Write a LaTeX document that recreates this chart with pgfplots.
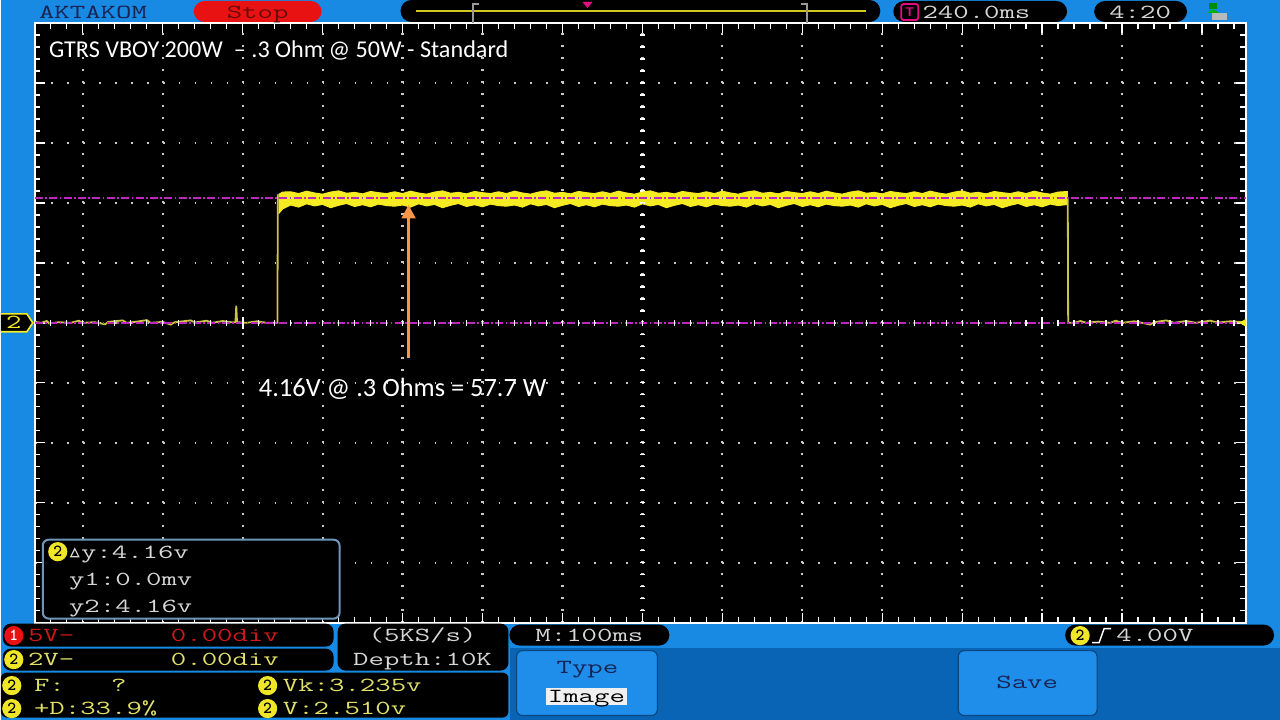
\documentclass[border=0pt]{standalone}
\usepackage{pgfplots}
\pgfplotsset{compat=1.18}
\usepgfplotslibrary{fillbetween}
\usepackage{pgfplotstable}
\usetikzlibrary{arrows.meta}
\usepackage{fontspec}
\setmainfont{Carlito}

\definecolor{scrblue}{RGB}{24,138,228}
\definecolor{pnlblue}{RGB}{10,100,182}
\definecolor{btnblue}{RGB}{30,142,234}
\definecolor{trc}{RGB}{245,235,35}
\definecolor{trcdim}{RGB}{205,195,70}
\definecolor{cur}{RGB}{190,40,190}
\definecolor{dotcol}{RGB}{200,200,200}
\definecolor{arrowor}{RGB}{247,150,70}
\definecolor{ch1}{RGB}{205,25,25}
\definecolor{ch2}{RGB}{225,225,105}
\definecolor{badgey}{RGB}{240,230,40}
\definecolor{navy}{RGB}{25,35,80}
\definecolor{boxedge}{RGB}{110,150,185}
\definecolor{stopred}{RGB}{232,18,18}
\definecolor{stoptxt}{RGB}{105,10,10}
\definecolor{scrtxt}{RGB}{215,215,215}

% channel 2, high level of the pulse: upper and lower edge of the noise band (ms, V)
\pgfplotstableread{
x top bot
305 4.28 3.64
310 4.36 3.80
320 4.37 3.93
330 4.31 3.86
340 4.39 3.97
350 4.33 3.90
360 4.29 3.95
370 4.36 3.84
380 4.40 3.92
390 4.32 3.98
400 4.35 3.88
410 4.30 3.94
420 4.38 3.87
430 4.34 3.96
440 4.31 3.91
450 4.37 3.89
460 4.31 3.93
470 4.39 3.86
480 4.33 3.97
490 4.29 3.90
500 4.36 3.95
510 4.40 3.84
520 4.32 3.92
530 4.35 3.98
540 4.30 3.88
550 4.38 3.94
560 4.34 3.87
570 4.31 3.96
580 4.37 3.91
590 4.31 3.89
600 4.39 3.93
610 4.33 3.86
620 4.29 3.97
630 4.36 3.90
640 4.40 3.95
650 4.32 3.84
660 4.35 3.92
670 4.30 3.98
680 4.38 3.88
690 4.34 3.94
700 4.31 3.87
710 4.37 3.96
720 4.31 3.91
730 4.39 3.89
740 4.33 3.93
750 4.29 3.86
760 4.36 3.97
770 4.40 3.90
780 4.32 3.95
790 4.35 3.84
800 4.30 3.92
810 4.38 3.98
820 4.34 3.88
830 4.31 3.94
840 4.37 3.87
850 4.31 3.96
860 4.39 3.91
870 4.33 3.89
880 4.29 3.93
890 4.36 3.86
900 4.40 3.97
910 4.32 3.90
920 4.35 3.95
930 4.30 3.84
940 4.38 3.92
950 4.34 3.98
960 4.31 3.88
970 4.37 3.94
980 4.31 3.87
990 4.39 3.96
1000 4.33 3.91
1010 4.29 3.89
1020 4.36 3.93
1030 4.40 3.86
1040 4.32 3.97
1050 4.35 3.90
1060 4.30 3.95
1070 4.38 3.84
1080 4.34 3.92
1090 4.31 3.98
1100 4.37 3.88
1110 4.31 3.94
1120 4.39 3.87
1130 4.33 3.96
1140 4.29 3.91
1150 4.36 3.89
1160 4.40 3.93
1170 4.32 3.86
1180 4.35 3.97
1190 4.30 3.90
1200 4.38 3.95
1210 4.34 3.84
1220 4.31 3.92
1230 4.37 3.98
1240 4.31 3.88
1250 4.39 3.94
1260 4.33 3.87
1270 4.29 3.96
1280 4.36 3.91
1292 4.38 3.95
}\hiband

% low level before the pulse and the rising edge
\pgfplotstableread{
x y
0 0.03
8 0.00
15 0.06
18 -0.02
30 0.02
45 0.00
55 0.07
60 0.00
75 0.02
88 -0.05
92 0.03
110 0.08
115 0.00
128 0.04
140 0.09
145 0.00
160 0.03
170 -0.06
175 0.02
195 0.08
200 0.01
215 0.07
222 0.00
235 0.06
245 0.02
251 0.02
252 0.57
253 0.02
265 0.00
278 0.05
290 0.00
303.5 0.00
304 4.28
}\lowleft

% falling edge and low level after the pulse
\pgfplotstableread{
x y
1292 4.15
1292.5 0.00
1300 0.00
1308 0.06
1315 0.00
1330 0.04
1345 0.00
1352 0.07
1360 0.00
1375 0.05
1385 0.00
1395 -0.06
1400 0.02
1415 0.08
1425 0.00
1440 0.06
1452 0.00
1470 0.07
1480 0.01
1495 0.05
1515 0.02
}\lowright

\newcommand{\scr}[1]{\scalebox{1.5}[1]{\ttfamily\fontsize{14.2}{14.2}\selectfont #1}}

\tikzset{
  px/.style={x=0.25mm, y=-0.25mm, shift={(-8.5mm,155.75mm)}},
  lbl/.style={inner sep=0pt, text height=3.3mm, text depth=0.2mm},
  badge/.style={circle, fill=#1, inner sep=0pt, minimum size=4.8mm,
    font=\ttfamily\bfseries\fontsize{12}{12}\selectfont},
}

\begin{document}
\begin{tikzpicture}
\begin{scope}[px]
  \path[use as bounding box] (0,0) rectangle (1280,720);
  % frame round the screen, kept off the screen itself
  \fill[scrblue] (0,0) rectangle (1280,22);
  \fill[scrblue] (0,0) rectangle (33,720);
  \fill[scrblue] (1247,0) rectangle (1280,720);
  \fill[scrblue] (0,624) rectangle (1280,720);
  \fill[pnlblue] (510,648) rectangle (1280,720);
\end{scope}

\begin{axis}[
    at={(0,0)}, anchor=south west,
    scale only axis, width=303mm, height=150mm,
    xmin=0, xmax=1515, ymin=-10, ymax=10,
    axis background/.style={fill=black},
    axis line style={white, line width=0.5mm},
    xtick={60,160,...,1460}, ytick={-8,-6,...,8},
    minor xtick={0,20,...,1500}, minor ytick={-9.6,-9.2,...,9.6},
    xticklabels={}, yticklabels={},
    tick align=inside, tick pos=both,
    major tick length=2.5mm, minor tick length=1.4mm,
    tick style={white, line width=0.35mm},
    xmajorgrids, ymajorgrids,
    x grid style={dotcol, line width=0.55mm, dash pattern=on 0.45mm off 2.55mm},
    y grid style={dotcol, line width=0.55mm, dash pattern=on 0.45mm off 3.55mm},
  ]
  % centre line ticks
  \pgfplotsinvokeforeach{-9.6,-9.2,...,9.6}{
    \draw[white, line width=0.35mm] (axis cs:757,#1) -- (axis cs:763,#1);
  }
  % noise band of the high level
  \addplot[name path=top, draw=trc, line width=0.25mm] table[x=x, y=top] {\hiband};
  \addplot[name path=bot, draw=trc, line width=0.25mm] table[x=x, y=bot] {\hiband};
  \addplot[trc] fill between[of=top and bot];
  % low level and edges
  \addplot[trcdim, line width=0.45mm] table[x=x, y=y] {\lowleft};
  \addplot[trcdim, line width=0.45mm] table[x=x, y=y] {\lowright};
  % cursors
  \addplot[cur, line width=0.4mm, dash pattern=on 2mm off 0.6mm on 0.4mm off 0.6mm]
    coordinates {(0,4.16) (1515,4.16)};
  \addplot[cur, line width=0.4mm, dash pattern=on 2mm off 0.6mm on 0.4mm off 0.6mm]
    coordinates {(0,0) (1515,0)};
  \pgfplotsinvokeforeach{0,20,...,1500}{
    \draw[white, line width=0.35mm] (axis cs:#1,-0.09) -- (axis cs:#1,0.09);
  }
  \draw[white, line width=0.45mm] (axis cs:260,-0.2) -- (axis cs:260,0.2);
  \draw[white, line width=0.45mm] (axis cs:1260,-0.2) -- (axis cs:1260,0.2);
\end{axis}

\begin{scope}[px]
  % top bar
  \node[lbl, anchor=west, text=navy] at (38,12) {\scr{AKTAKOM}};
  \fill[stopred, rounded corners=2.7mm] (193,1) rectangle (321,22);
  \node[lbl, text=stoptxt] at (257,12) {\scr{Stop}};
  \fill[black, rounded corners=2.7mm] (400,0) rectangle (880,22);
  \draw[trc!85!black, line width=0.3mm] (415,11) -- (866,11);
  \draw[gray!80, line width=0.5mm] (478,4) -- (472,4) -- (472,23);
  \draw[gray!80, line width=0.5mm] (801,4) -- (807,4) -- (807,23);
  \fill[magenta!85!purple] (582,2) -- (592,2) -- (587,8) -- cycle;
  \fill[black, rounded corners=2.7mm] (893,1) rectangle (1067,22);
  \draw[magenta!85!purple, line width=0.45mm, rounded corners=0.6mm] (901,4) rectangle (918,20);
  \node[inner sep=0pt, text=magenta!85!purple, font=\sffamily\bfseries\fontsize{9}{9}\selectfont] at (909.5,12) {T};
  \node[lbl, anchor=west, text=scrtxt] at (922,12) {\scr{240.0ms}};
  \fill[black, rounded corners=2.7mm] (1094,1) rectangle (1187,22);
  \node[lbl, text=scrtxt] at (1140,12) {\scr{4:20}};
  \fill[green!55!black] (1209,3) rectangle (1217,9);
  \fill[green!70!black] (1213,9) -- (1207,13) -- (1219,13) -- cycle;
  \fill[gray!55] (1212,13) rectangle (1227,20);

  % annotations
  \node[inner sep=0pt, anchor=base west, text=white, font=\fontsize{17.2}{17.2}\selectfont]
    at (48,58) {GTRS VBOY 200W\ \ – .3 Ohm @ 50W - Standard};
  \node[inner sep=0pt, anchor=base west, text=white, font=\fontsize{18.8}{18.8}\selectfont]
    at (258,397) {4.16V @ .3 Ohms = 57.7 W};
  \draw[arrowor, line width=0.8mm, -{Triangle[width=3.4mm,length=3.4mm]}] (408,358) -- (408,205);

  % channel 2 marker
  \fill[black] (0,314) -- (26,314) -- (32,323) -- (26,332) -- (0,332) -- cycle;
  \draw[trc, line width=0.4mm] (0,314) -- (26,314) -- (32,323) -- (26,332) -- (0,332);
  \node[lbl, text=trc] at (13,323) {\scr{2}};
  \fill[trc] (1239,323) -- (1246,319) -- (1246,327) -- cycle;

  % cursor readout box
  \fill[black, draw=boxedge, line width=0.5mm, rounded corners=1.5mm] (42,540) rectangle (339,619);
  \node[badge=badgey] at (57,552) {2};
  \draw[scrtxt, line width=0.3mm] (70,557) -- (78,557) -- (74,549) -- cycle;
  \node[lbl, anchor=west, text=scrtxt] at (80,553) {\scr{y:4.16v}};
  \node[lbl, anchor=west, text=scrtxt] at (68,580) {\scr{y1:0.0mv}};
  \node[lbl, anchor=west, text=scrtxt] at (68,607) {\scr{y2:4.16v}};

  % channel settings
  \fill[black, rounded corners=2mm] (2,624) rectangle (333,647);
  \node[badge=stopred, text=white] at (13,636) {1};
  \node[lbl, anchor=west, text=ch1] at (27,636) {\scr{5V-}};
  \node[lbl, anchor=west, text=ch1] at (170,636) {\scr{0.00div}};
  \fill[black, rounded corners=2mm] (2,649) rectangle (333,671);
  \node[badge=badgey] at (13,660) {2};
  \node[lbl, anchor=west, text=ch2] at (27,660) {\scr{2V-}};
  \node[lbl, anchor=west, text=ch2] at (170,660) {\scr{0.00div}};
  \fill[black, rounded corners=2mm] (337,624) rectangle (508,671);
  \node[lbl, text=scrtxt] at (422,636) {\scr{(5KS/s)}};
  \node[lbl, text=scrtxt] at (422,660) {\scr{Depth:10K}};

  % measurements
  \fill[black, rounded corners=1.5mm] (0,673) rectangle (508,718);
  \node[badge=badgey] at (11,686) {2};
  \node[lbl, anchor=west, text=ch2] at (33,686) {\scr{F:\ \ \ ?}};
  \node[badge=badgey] at (11,709) {2};
  \node[lbl, anchor=west, text=ch2] at (33,709) {\scr{+D:33.9\%}};
  \node[badge=badgey] at (267,686) {2};
  \node[lbl, anchor=west, text=ch2] at (282,686) {\scr{Vk:3.235v}};
  \node[badge=badgey] at (267,709) {2};
  \node[lbl, anchor=west, text=ch2] at (282,709) {\scr{V:2.510v}};

  % time base, trigger, menu
  \fill[black, rounded corners=2.6mm] (509,625) rectangle (669,646);
  \node[lbl, text=scrtxt] at (589,636) {\scr{M:100ms}};
  \fill[black, rounded corners=2.6mm] (1065,625) rectangle (1274,646);
  \node[badge=badgey] at (1080,636) {2};
  \draw[white, line width=0.35mm] (1092,643) -- (1099,643) -- (1104,629) -- (1111,629);
  \node[lbl, anchor=west, text=scrtxt] at (1116,636) {\scr{4.00V}};
  \fill[btnblue, draw=pnlblue!70!black, line width=0.3mm, rounded corners=1.5mm] (516,651) rectangle (657,716);
  \node[lbl, text=navy] at (587,668) {\scr{Type}};
  \node[fill=gray!12, inner xsep=0.6mm, inner ysep=0.3mm, text height=3.3mm, text depth=0.2mm, text=black] at (586,697) {\scr{Image}};
  \fill[btnblue, draw=pnlblue!70!black, line width=0.3mm, rounded corners=1.5mm] (958,651) rectangle (1097,716);
  \node[lbl, text=navy] at (1027,683) {\scr{Save}};
\end{scope}
\end{tikzpicture}
\end{document}
